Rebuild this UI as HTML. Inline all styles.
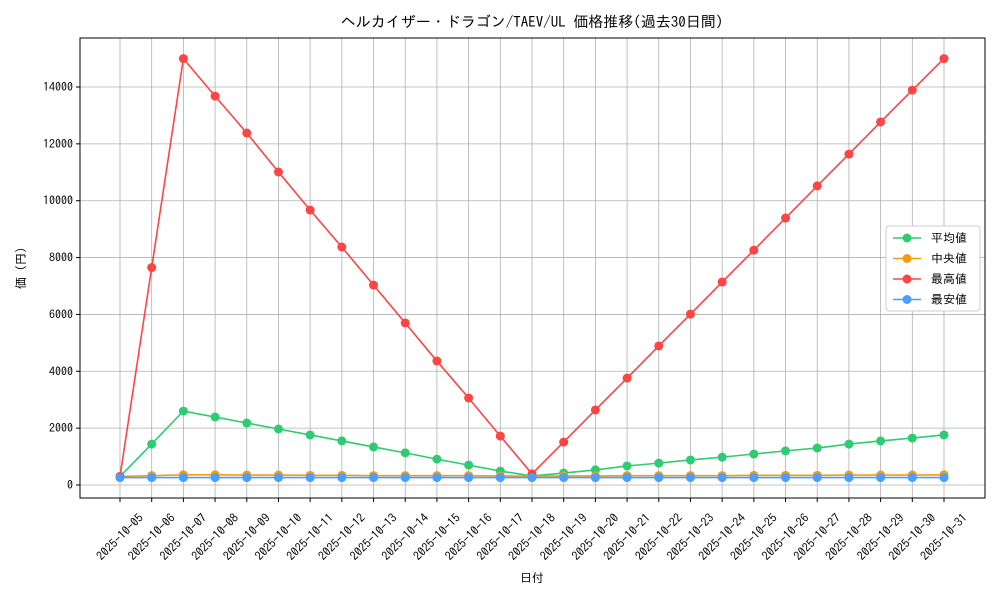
<!DOCTYPE html>
<html><head><meta charset="utf-8"><style>
body{margin:0;background:#fff;}
svg text{font-family:"IPAGothic","Liberation Sans","Noto Sans CJK JP",sans-serif;fill:#000;}
</style></head><body>
<svg id="chart" width="1000" height="600" xmlns="http://www.w3.org/2000/svg">
<rect x="0" y="0" width="1000" height="600" fill="#fff"/>
<text x="532" y="27" font-size="15" text-anchor="middle">ヘルカイザー・ドラゴン/TAEV/UL 価格推移(過去30日間)</text>
<g id="grid"></g><g id="axes"></g><g id="series"></g>
<text x="532" y="582" font-size="12" text-anchor="middle">日付</text>
<text transform="translate(25,268) rotate(-90)" font-size="12" text-anchor="middle">価 (円)</text>
<g id="legend"></g>
</svg>
<script>
const dates=["2025-10-05","2025-10-06","2025-10-07","2025-10-08","2025-10-09","2025-10-10","2025-10-11","2025-10-12","2025-10-13","2025-10-14","2025-10-15","2025-10-16","2025-10-17","2025-10-18","2025-10-19","2025-10-20","2025-10-21","2025-10-22","2025-10-23","2025-10-24","2025-10-25","2025-10-26","2025-10-27","2025-10-28","2025-10-29","2025-10-30","2025-10-31"];
const avgVals=[300,1440,2600,2390,2180,1970,1760,1550,1340,1130,910,700,490,320,420,530,670,770,880,980,1090,1200,1300,1440,1550,1650,1760];
const medVals=[300,330,360,360,350,350,340,340,330,330,330,330,320,310,320,320,330,330,330,330,340,340,340,350,350,350,360];
const maxVals=[300,7650,15000,13680,12380,11010,9670,8370,7030,5700,4360,3060,1720,390,1510,2640,3760,4890,6010,7140,8260,9390,10520,11640,12770,13890,15000];
const minVals=[260,260,260,260,260,260,260,260,260,260,260,260,260,260,260,260,260,260,260,260,260,260,260,260,260,260,260];
const yTicks=[0,2000,4000,6000,8000,10000,12000,14000];
const seriesNames=["平均値","中央値","最高値","最安値"];
const colors=["#2ecc71","#f39c12","#ff4444","#4a9eff"];
const NS="http://www.w3.org/2000/svg";
const L=80,R=985,T=38,B=498;
const x0=120,x1=944;
function xs(i){return x0+(x1-x0)*i/(dates.length-1);}
function ys(v){return 485-v*(485-87)/14000;}
function mk(tag,attrs,parent){const e=document.createElementNS(NS,tag);for(const k in attrs)e.setAttribute(k,attrs[k]);parent.appendChild(e);return e;}
const grid=document.getElementById('grid'),axes=document.getElementById('axes'),ser=document.getElementById('series'),leg=document.getElementById('legend');
dates.forEach((d,i)=>{
  const g=mk('line',{x1:xs(i),x2:xs(i),y1:T,y2:B,stroke:'#b0b0b0','stroke-width':0.8},grid);
  
  
  mk('line',{x1:xs(i),x2:xs(i),y1:B,y2:B+4,stroke:'#000'},axes);
  const t=mk('text',{x:0,y:4,'font-size':12,'text-anchor':'middle',transform:`translate(${xs(i)},${537}) rotate(-45)`},axes);
  t.textContent=d;
  
  
});
yTicks.forEach(v=>{
  const g=mk('line',{x1:L,x2:R,y1:ys(v),y2:ys(v),stroke:'#b0b0b0','stroke-width':0.8},grid);
  
  
  mk('line',{x1:L-4,x2:L,y1:ys(v),y2:ys(v),stroke:'#000'},axes);
  const t=mk('text',{x:L-7,y:ys(v)+4,'font-size':12,'text-anchor':'end'},axes);
  t.textContent=v;
  
  
});
const fr=mk('rect',{x:L,y:T,width:R-L,height:B-T,fill:'none',stroke:'#000','stroke-width':1},axes);


const all=[avgVals,medVals,maxVals,minVals];
all.forEach((vals,s)=>{
  const g=mk('g',{},ser);
  
  
  const p=mk('polyline',{points:vals.map((v,i)=>xs(i)+','+ys(v)).join(' '),fill:'none',stroke:colors[s],'stroke-width':1.6},g);
  
  
  vals.forEach((v,i)=>{
    const c=mk('circle',{cx:xs(i),cy:ys(v),r:4.5,fill:colors[s]},g);
    
    
  });
});
const lb=mk('rect',{x:886,y:226,width:94,height:85,fill:'#fff',stroke:'#ccc',rx:3},leg);


seriesNames.forEach((n,s)=>{
  const y=238+s*20.5;
  const g=mk('g',{},leg);
  
  
  mk('line',{x1:893,x2:921,y1:y,y2:y,stroke:colors[s],'stroke-width':1.6},g);
  mk('circle',{cx:907,cy:y,r:4.5,fill:colors[s]},g);
  const t=mk('text',{x:931,y:y+4,'font-size':12},g);
  t.textContent=n;
});
</script>
</body></html>
